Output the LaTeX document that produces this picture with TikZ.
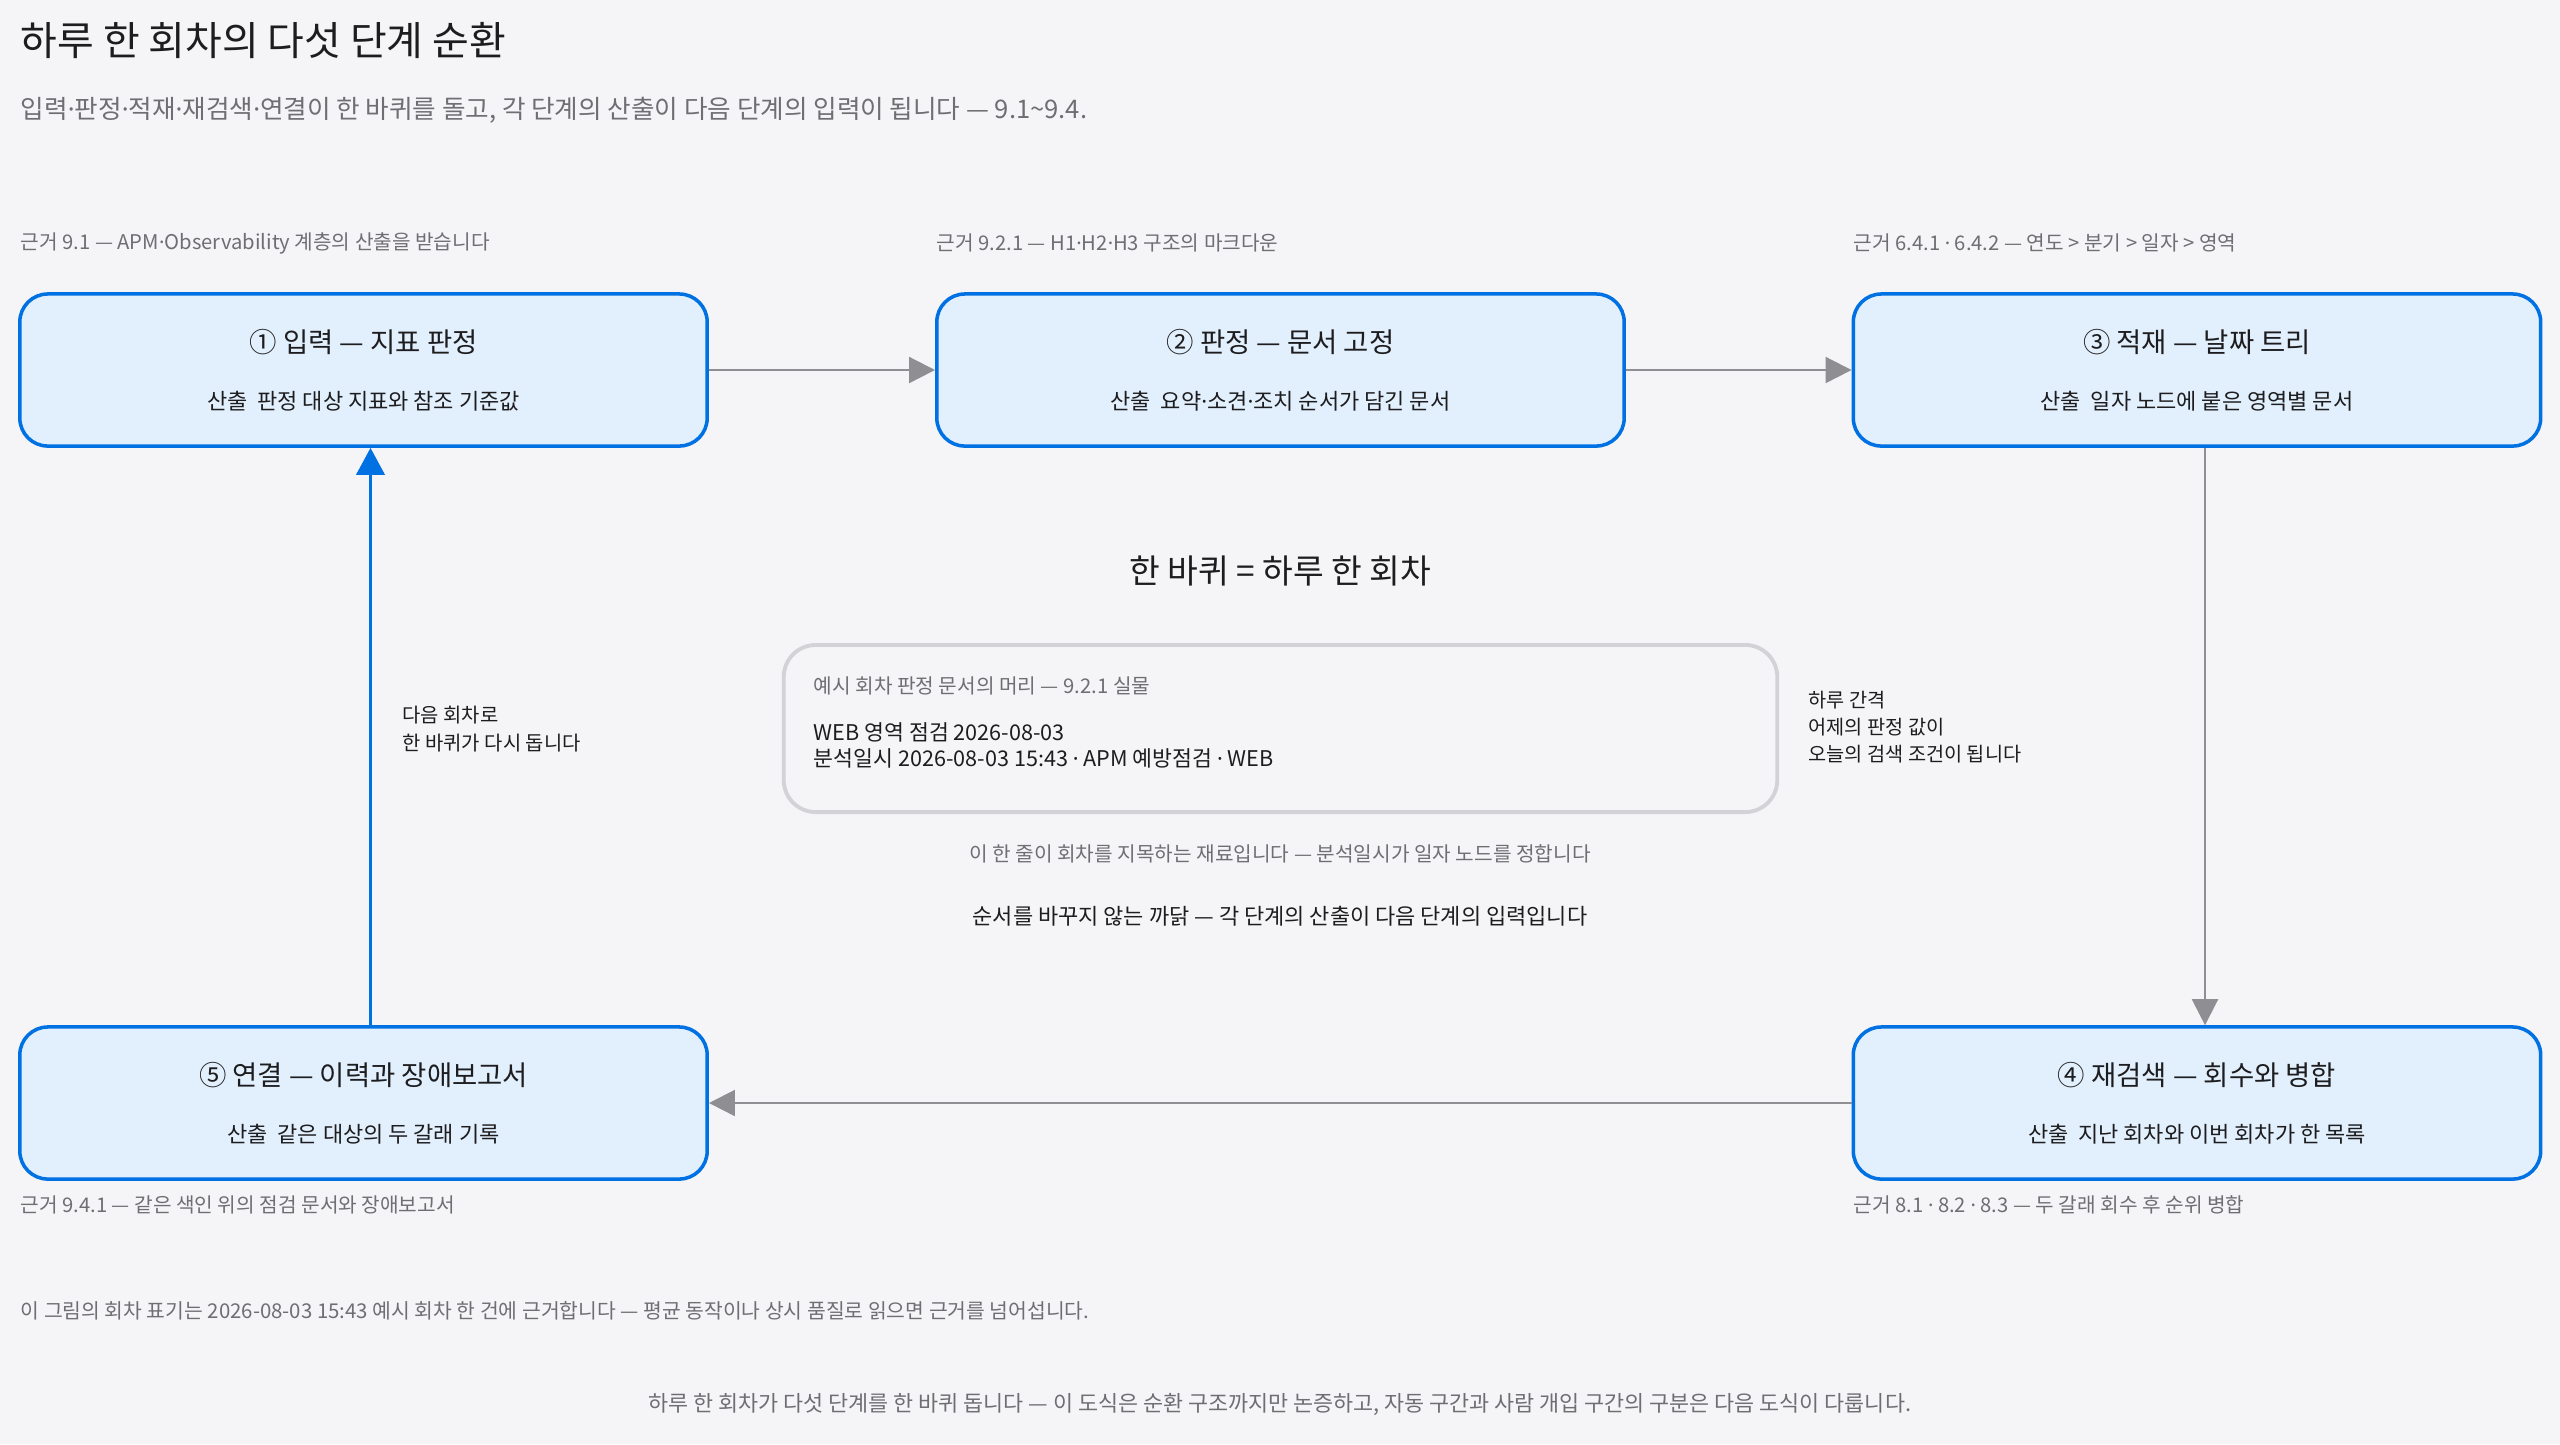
\documentclass[tikz,border=0pt]{standalone}
\usepackage{fontspec}
\setmainfont{Noto Sans CJK KR}
\newfontfamily\dotfont{Noto Sans}
\usetikzlibrary{arrows.meta, positioning}
\definecolor{page_bg}{RGB}{245, 245, 247}
\definecolor{ink}{RGB}{29, 29, 31}
\definecolor{soft_gray}{RGB}{110, 110, 115}
\definecolor{arrow_gray}{RGB}{142, 142, 147}
\definecolor{stage_blue}{RGB}{0, 113, 227}
\definecolor{stage_fill}{RGB}{226, 239, 252}
\definecolor{frame_gray}{RGB}{210, 210, 215}
\newcommand{\md}{{\dotfont ·}}
\newcommand{\stagetext}[2]{#1\\{\fontsize{6.25}{16.2}\selectfont #2}}

\begin{document}
\begin{tikzpicture}[
    x=0.01cm, y=-0.01cm,
    % Node styles
    stage/.style={
        rectangle,
        draw=stage_blue,
        fill=stage_fill,
        text=ink,
        line width=1pt,
        rounded corners=0.28cm,
        minimum width=6.87cm,
        minimum height=1.52cm,
        align=center,
        font=\fontsize{7.8}{16.2}\selectfont
    },
    sample/.style={
        rectangle,
        draw=frame_gray,
        line width=1.1pt,
        rounded corners=0.32cm,
        minimum width=9.93cm,
        minimum height=1.67cm
    },
    note/.style={
        anchor=west,
        inner sep=0pt,
        align=left,
        text=#1,
        font=\fontsize{5.75}{7.7}\selectfont
    },
    arrow/.style={
        -{Triangle[length=0.26cm, width=0.26cm]},
        line width=0.6pt,
        #1
    },
    loop_arrow/.style={
        -{Triangle[length=0.27cm, width=0.28cm]},
        line width=1.1pt,
        #1
    }
]

% Page
\fill[page_bg] (0,0) rectangle (2560,1444);
\useasboundingbox (0,0) rectangle (2560,1444);

% Heading
\node[note=ink, font=\fontsize{11.35}{13}\selectfont] (title) at (20,40) {하루 한 회차의 다섯 단계 순환};
\node[note=soft_gray, font=\fontsize{7.28}{8}\selectfont] (subtitle) at (20,110) {입력\md 판정\md 적재\md 재검색\md 연결이 한 바퀴를 돌고, 각 단계의 산출이 다음 단계의 입력이 됩니다 — 9.1\textasciitilde 9.4.};

% Position nodes
\node[stage] (s1) at (363.5,370) {\stagetext{① 입력 — 지표 판정}{산출\ \ 판정 대상 지표와 참조 기준값}};
\node[stage] (s2) at (1280.5,370) {\stagetext{② 판정 — 문서 고정}{산출\ \ 요약\md 소견\md 조치 순서가 담긴 문서}};
\node[stage] (s3) at (2197,370) {\stagetext{③ 적재 — 날짜 트리}{산출\ \ 일자 노드에 붙은 영역별 문서}};
\node[stage] (s4) at (2197,1103) {\stagetext{④ 재검색 — 회수와 병합}{산출\ \ 지난 회차와 이번 회차가 한 목록}};
\node[stage] (s5) at (363.5,1103) {\stagetext{⑤ 연결 — 이력과 장애보고서}{산출\ \ 같은 대상의 두 갈래 기록}};

% Grounds
\node[note=soft_gray] (g1) at (20,243) {근거 9.1 — APM\md Observability 계층의 산출을 받습니다};
\node[note=soft_gray] (g2) at (936,243) {근거 9.2.1 — H1\md H2\md H3 구조의 마크다운};
\node[note=soft_gray] (g3) at (1853,243) {근거 6.4.1 \md\ 6.4.2 — 연도 > 분기 > 일자 > 영역};
\node[note=soft_gray] (g5) at (20,1205) {근거 9.4.1 — 같은 색인 위의 점검 문서와 장애보고서};
\node[note=soft_gray] (g4) at (1853,1205) {근거 8.1 \md\ 8.2 \md\ 8.3 — 두 갈래 회수 후 순위 병합};

% Centre
\node[inner sep=0pt, text=ink, font=\fontsize{9.5}{11}\selectfont] (wheel) at (1280,571) {한 바퀴 = 하루 한 회차};
\node[sample] (head) at (1280.5,728.5) {};
\node[note=soft_gray, font=\fontsize{5.75}{7}\selectfont] (head_cap) at (813,686) {예시 회차 판정 문서의 머리 — 9.2.1 실물};
\node[note=ink, font=\fontsize{6.15}{7.4}\selectfont] (head_txt) at (813,745) {WEB 영역 점검 2026-08-03\\분석일시 2026-08-03 15:43 \md\ APM 예방점검 \md\ WEB};
\node[inner sep=0pt, text=soft_gray, font=\fontsize{5.75}{7}\selectfont] (head_note) at (1280,854) {이 한 줄이 회차를 지목하는 재료입니다 — 분석일시가 일자 노드를 정합니다};
\node[inner sep=0pt, text=ink, font=\fontsize{6.25}{7}\selectfont] (why) at (1280,916) {순서를 바꾸지 않는 까닭 — 각 단계의 산출이 다음 단계의 입력입니다};

% Side labels
\node[note=ink, font=\fontsize{5.6}{7.7}\selectfont] (gap) at (1808,727) {하루 간격\\어제의 판정 값이\\오늘의 검색 조건이 됩니다};
\node[note=ink, font=\fontsize{5.65}{7.9}\selectfont] (again) at (402,729) {다음 회차로\\한 바퀴가 다시 돕니다};

% Connectors
\draw[arrow=arrow_gray] (s1.east) -- (s2.west);
\draw[arrow=arrow_gray] (s2.east) -- (s3.west);
\draw[arrow=arrow_gray] ([xshift=0.08cm]s3.south) -- ([xshift=0.08cm]s4.north);
\draw[arrow=arrow_gray] (s4.west) -- (s5.east);
\draw[loop_arrow=stage_blue] ([xshift=0.07cm]s5.north) -- ([xshift=0.07cm]s1.south);

% Footer
\node[note=soft_gray, font=\fontsize{5.8}{7}\selectfont] (foot) at (20,1311) {이 그림의 회차 표기는 2026-08-03 15:43 예시 회차 한 건에 근거합니다 — 평균 동작이나 상시 품질로 읽으면 근거를 넘어섭니다.};
\node[inner sep=0pt, text=soft_gray, font=\fontsize{6.2}{7}\selectfont] (closing) at (1280,1404) {하루 한 회차가 다섯 단계를 한 바퀴 돕니다 — 이 도식은 순환 구조까지만 논증하고, 자동 구간과 사람 개입 구간의 구분은 다음 도식이 다룹니다.};

\end{tikzpicture}
\end{document}
